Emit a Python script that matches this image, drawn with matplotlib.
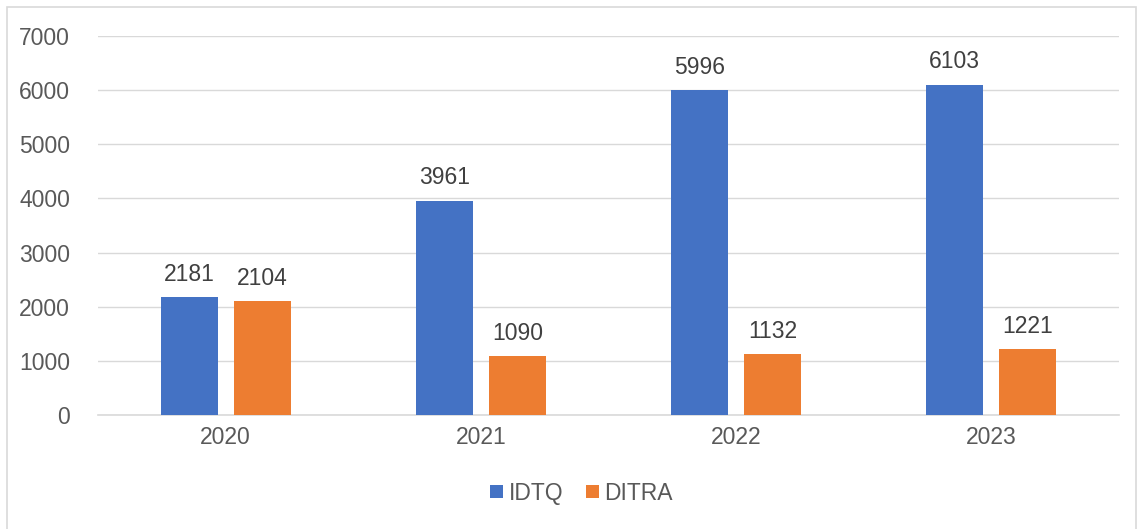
import numpy as np
import matplotlib.pyplot as plt
from matplotlib.patches import Rectangle

plt.rcParams['font.family'] = ['Liberation Sans', 'DejaVu Sans']

years = ["2020", "2021", "2022", "2023"]
idtq = [2181, 3961, 5996, 6103]
ditra = [2104, 1090, 1132, 1221]

text_col = "#595959"
fig = plt.figure(figsize=(11.38, 5.29), dpi=100)
ax = fig.add_axes([0.0861, 0.2155, 0.8972, 0.7165])

x = np.arange(len(years))
w = 0.224
b1 = ax.bar(x - 0.143, idtq, w, color="#4472C4", label="IDTQ", zorder=3)
b2 = ax.bar(x + 0.143, ditra, w, color="#ED7D31", label="DITRA", zorder=3)

for bars in (b1, b2):
    for bar in bars:
        h = bar.get_height()
        ax.annotate(str(h), (bar.get_x() + bar.get_width() / 2, h),
                    xytext=(0, 8), textcoords="offset points",
                    ha="center", va="bottom", fontsize=16.5, color="#404040")

ax.set_xlim(-0.5, 3.5)
ax.set_ylim(0, 7000)
ax.set_yticks(range(0, 7001, 1000))
ax.set_xticks(x)
ax.set_xticklabels(years)
ax.tick_params(axis="both", length=0, labelsize=16.5, labelcolor=text_col)
ax.tick_params(axis="y", pad=20)
ax.tick_params(axis="x", pad=8)
ax.grid(axis="y", color="#D9D9D9", linewidth=1, zorder=0)
for s in ["top", "right", "left"]:
    ax.spines[s].set_visible(False)
ax.spines["bottom"].set_color("#D9D9D9")
ax.spines["bottom"].set_linewidth(1.2)

leg = fig.legend(handles=[b1, b2], loc="center", bbox_to_anchor=(0.511, 0.068),
                 ncol=2, frameon=False, fontsize=16.5, handlelength=0.55,
                 handleheight=0.55, handletextpad=0.25, columnspacing=1.0)
for t in leg.get_texts():
    t.set_color(text_col)

fig.patches.append(Rectangle((7 / 1138, -0.1), 1129 / 1138, 1.1 - 7 / 529,
                             transform=fig.transFigure, fill=False,
                             edgecolor="#D9D9D9", linewidth=1.2))

fig.savefig("out.png", dpi=100)
plt.close()
